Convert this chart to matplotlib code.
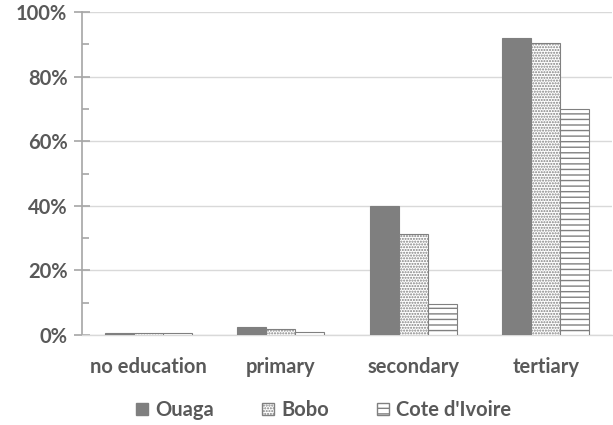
"""
Share of respondents by education level, grouped bar chart.
"""
import numpy as np
import matplotlib.pyplot as plt
from matplotlib.patches import Patch
from matplotlib.ticker import MultipleLocator, PercentFormatter

# Data
categories = ["no education", "primary", "secondary", "tertiary"]
ouaga = [0.7, 2.6, 39.9, 91.9]
bobo = [0.7, 1.8, 31.4, 90.4]
cote_ivoire = [0.7, 1.0, 9.5, 69.9]
series_labels = ["Ouaga", "Bobo", "Cote d'Ivoire"]

# Style
TEXT_COLOR = "#595959"
EDGE_COLOR = "#808080"
FILL_COLOR = "#7f7f7f"
GRID_COLOR = "#d9d9d9"
BAR_WIDTH = 0.22
FONT_SIZE = 14.5

plt.rcParams["font.family"] = ["Lato", "DejaVu Sans"]
plt.rcParams["font.weight"] = "bold"
plt.rcParams["hatch.linewidth"] = 1.0
plt.rcParams["hatch.color"] = EDGE_COLOR

fig = plt.figure(figsize=(6.13, 4.25), dpi=100)
ax = fig.add_axes([82 / 613, 90 / 425, 530 / 613, 323 / 425])

x = np.arange(len(categories))
ax.bar(x - BAR_WIDTH, ouaga, BAR_WIDTH, color=FILL_COLOR, edgecolor=FILL_COLOR,
       linewidth=0.8, zorder=3)
ax.bar(x, bobo, BAR_WIDTH, color="white", edgecolor=EDGE_COLOR, hatch="......",
       linewidth=0.8, zorder=3)
ax.bar(x + BAR_WIDTH, cote_ivoire, BAR_WIDTH, color="white", edgecolor=EDGE_COLOR,
       hatch="---", linewidth=0.8, zorder=3)

ax.set_xlim(-0.5, len(categories) - 0.5)
ax.set_ylim(0, 100)
ax.yaxis.set_major_locator(MultipleLocator(20))
ax.yaxis.set_minor_locator(MultipleLocator(10))
ax.yaxis.set_major_formatter(PercentFormatter(decimals=0))
ax.set_xticks(x)
ax.set_xticklabels(categories)

ax.grid(axis="y", color=GRID_COLOR, linewidth=1.0, zorder=0)
for side in ("top", "right"):
    ax.spines[side].set_visible(False)
ax.spines["left"].set_color("#a6a6a6")
ax.spines["left"].set_linewidth(1.2)
ax.spines["bottom"].set_color(GRID_COLOR)
ax.spines["bottom"].set_linewidth(1.0)

ax.tick_params(axis="y", which="major", direction="inout", length=11, width=1.2,
               color="#a6a6a6", labelsize=FONT_SIZE, labelcolor=TEXT_COLOR, pad=5)
ax.tick_params(axis="y", which="minor", direction="in", length=5, width=1.2,
               color="#a6a6a6")
ax.tick_params(axis="x", length=0, labelsize=FONT_SIZE, labelcolor=TEXT_COLOR, pad=16)

handles = [
    Patch(facecolor=FILL_COLOR, edgecolor=FILL_COLOR),
    Patch(facecolor="white", edgecolor=EDGE_COLOR, hatch="......"),
    Patch(facecolor="white", edgecolor=EDGE_COLOR, hatch="---"),
]
leg = fig.legend(handles, series_labels, loc="center", bbox_to_anchor=(0.528, 0.035),
                 ncol=3, frameon=False, fontsize=FONT_SIZE, handlelength=0.6,
                 handleheight=0.6, handletextpad=0.35, columnspacing=2.4)
for t in leg.get_texts():
    t.set_color(TEXT_COLOR)

fig.savefig("out.png", dpi=100)
